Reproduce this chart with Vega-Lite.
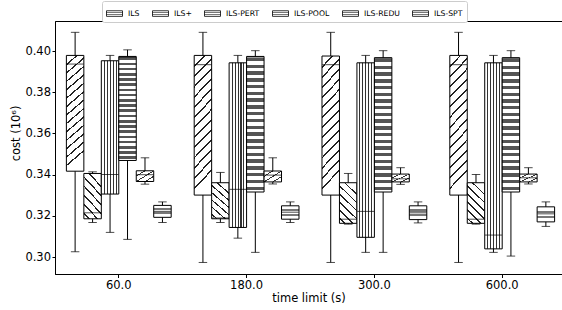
{
  "$schema": "https://vega.github.io/schema/vega-lite/v6.json",
  "width": 507,
  "height": 253,
  "autosize": {"type": "none"},
  "padding": {"left": 55, "top": 21, "right": 0, "bottom": 36},
  "background": "white",
  "config": {
    "font": "DejaVu Sans",
    "view": {"stroke": "black", "strokeWidth": 1},
    "axis": {"grid": false, "domainColor": "black", "tickColor": "black", "labelColor": "black", "titleColor": "black", "titleFontWeight": "normal", "labelFontSize": 11.5, "titleFontSize": 11.5, "labelFont": "DejaVu Sans", "titleFont": "DejaVu Sans"}
  },
  "params": [
    {"name": "gILS", "value": {"gradient": "linear", "x1": 0, "y1": 0, "x2": 0.13, "y2": 1, "stops": [
      {"offset": 0, "color": "#ffffff"},
      {"offset": 0.0714, "color": "#ffffff"}, {"offset": 0.0714, "color": "#222222"}, {"offset": 0.0854, "color": "#222222"}, {"offset": 0.0854, "color": "#ffffff"},
      {"offset": 0.1429, "color": "#ffffff"}, {"offset": 0.1429, "color": "#222222"}, {"offset": 0.1569, "color": "#222222"}, {"offset": 0.1569, "color": "#ffffff"},
      {"offset": 0.2143, "color": "#ffffff"}, {"offset": 0.2143, "color": "#222222"}, {"offset": 0.2283, "color": "#222222"}, {"offset": 0.2283, "color": "#ffffff"},
      {"offset": 0.2857, "color": "#ffffff"}, {"offset": 0.2857, "color": "#222222"}, {"offset": 0.2997, "color": "#222222"}, {"offset": 0.2997, "color": "#ffffff"},
      {"offset": 0.3571, "color": "#ffffff"}, {"offset": 0.3571, "color": "#222222"}, {"offset": 0.3711, "color": "#222222"}, {"offset": 0.3711, "color": "#ffffff"},
      {"offset": 0.4286, "color": "#ffffff"}, {"offset": 0.4286, "color": "#222222"}, {"offset": 0.4426, "color": "#222222"}, {"offset": 0.4426, "color": "#ffffff"},
      {"offset": 0.5, "color": "#ffffff"}, {"offset": 0.5, "color": "#222222"}, {"offset": 0.514, "color": "#222222"}, {"offset": 0.514, "color": "#ffffff"},
      {"offset": 0.5714, "color": "#ffffff"}, {"offset": 0.5714, "color": "#222222"}, {"offset": 0.5854, "color": "#222222"}, {"offset": 0.5854, "color": "#ffffff"},
      {"offset": 0.6429, "color": "#ffffff"}, {"offset": 0.6429, "color": "#222222"}, {"offset": 0.6569, "color": "#222222"}, {"offset": 0.6569, "color": "#ffffff"},
      {"offset": 0.7143, "color": "#ffffff"}, {"offset": 0.7143, "color": "#222222"}, {"offset": 0.7283, "color": "#222222"}, {"offset": 0.7283, "color": "#ffffff"},
      {"offset": 0.7857, "color": "#ffffff"}, {"offset": 0.7857, "color": "#222222"}, {"offset": 0.7997, "color": "#222222"}, {"offset": 0.7997, "color": "#ffffff"},
      {"offset": 0.8571, "color": "#ffffff"}, {"offset": 0.8571, "color": "#222222"}, {"offset": 0.8711, "color": "#222222"}, {"offset": 0.8711, "color": "#ffffff"},
      {"offset": 0.9286, "color": "#ffffff"}, {"offset": 0.9286, "color": "#222222"}, {"offset": 0.9426, "color": "#222222"}, {"offset": 0.9426, "color": "#ffffff"},
      {"offset": 1, "color": "#ffffff"}
    ]}},
    {"name": "gPLUS", "value": {"gradient": "linear", "x1": 0, "y1": 1, "x2": 0.42, "y2": 0, "stops": [
      {"offset": 0, "color": "#ffffff"},
      {"offset": 0.09, "color": "#ffffff"}, {"offset": 0.09, "color": "#222222"}, {"offset": 0.125, "color": "#222222"}, {"offset": 0.125, "color": "#ffffff"},
      {"offset": 0.26, "color": "#ffffff"}, {"offset": 0.26, "color": "#222222"}, {"offset": 0.295, "color": "#222222"}, {"offset": 0.295, "color": "#ffffff"},
      {"offset": 0.43, "color": "#ffffff"}, {"offset": 0.43, "color": "#222222"}, {"offset": 0.465, "color": "#222222"}, {"offset": 0.465, "color": "#ffffff"},
      {"offset": 0.60, "color": "#ffffff"}, {"offset": 0.60, "color": "#222222"}, {"offset": 0.635, "color": "#222222"}, {"offset": 0.635, "color": "#ffffff"},
      {"offset": 0.77, "color": "#ffffff"}, {"offset": 0.77, "color": "#222222"}, {"offset": 0.805, "color": "#222222"}, {"offset": 0.805, "color": "#ffffff"},
      {"offset": 0.94, "color": "#ffffff"}, {"offset": 0.94, "color": "#222222"}, {"offset": 0.975, "color": "#222222"}, {"offset": 0.975, "color": "#ffffff"},
      {"offset": 1, "color": "#ffffff"}
    ]}},
    {"name": "gPERT", "value": {"gradient": "linear", "x1": 0, "y1": 0, "x2": 1, "y2": 0, "stops": [
      {"offset": 0, "color": "#ffffff"},
      {"offset": 0.14, "color": "#ffffff"}, {"offset": 0.14, "color": "#333333"}, {"offset": 0.2, "color": "#333333"}, {"offset": 0.2, "color": "#ffffff"},
      {"offset": 0.31, "color": "#ffffff"}, {"offset": 0.31, "color": "#333333"}, {"offset": 0.37, "color": "#333333"}, {"offset": 0.37, "color": "#ffffff"},
      {"offset": 0.48, "color": "#ffffff"}, {"offset": 0.48, "color": "#333333"}, {"offset": 0.54, "color": "#333333"}, {"offset": 0.54, "color": "#ffffff"},
      {"offset": 0.65, "color": "#ffffff"}, {"offset": 0.65, "color": "#333333"}, {"offset": 0.71, "color": "#333333"}, {"offset": 0.71, "color": "#ffffff"},
      {"offset": 0.82, "color": "#ffffff"}, {"offset": 0.82, "color": "#333333"}, {"offset": 0.88, "color": "#333333"}, {"offset": 0.88, "color": "#ffffff"},
      {"offset": 1, "color": "#ffffff"}
    ]}},
    {"name": "gPOOL", "value": {"gradient": "linear", "x1": 0, "y1": 0, "x2": 0, "y2": 1, "stops": [
      {"offset": 0, "color": "#ffffff"},
      {"offset": 0.01, "color": "#ffffff"}, {"offset": 0.01, "color": "#555555"}, {"offset": 0.035, "color": "#555555"}, {"offset": 0.035, "color": "#ffffff"},
      {"offset": 0.06, "color": "#ffffff"}, {"offset": 0.06, "color": "#555555"}, {"offset": 0.085, "color": "#555555"}, {"offset": 0.085, "color": "#ffffff"},
      {"offset": 0.11, "color": "#ffffff"}, {"offset": 0.11, "color": "#555555"}, {"offset": 0.135, "color": "#555555"}, {"offset": 0.135, "color": "#ffffff"},
      {"offset": 0.16, "color": "#ffffff"}, {"offset": 0.16, "color": "#555555"}, {"offset": 0.185, "color": "#555555"}, {"offset": 0.185, "color": "#ffffff"},
      {"offset": 0.21, "color": "#ffffff"}, {"offset": 0.21, "color": "#555555"}, {"offset": 0.235, "color": "#555555"}, {"offset": 0.235, "color": "#ffffff"},
      {"offset": 0.26, "color": "#ffffff"}, {"offset": 0.26, "color": "#555555"}, {"offset": 0.285, "color": "#555555"}, {"offset": 0.285, "color": "#ffffff"},
      {"offset": 0.31, "color": "#ffffff"}, {"offset": 0.31, "color": "#555555"}, {"offset": 0.335, "color": "#555555"}, {"offset": 0.335, "color": "#ffffff"},
      {"offset": 0.36, "color": "#ffffff"}, {"offset": 0.36, "color": "#555555"}, {"offset": 0.385, "color": "#555555"}, {"offset": 0.385, "color": "#ffffff"},
      {"offset": 0.41, "color": "#ffffff"}, {"offset": 0.41, "color": "#555555"}, {"offset": 0.435, "color": "#555555"}, {"offset": 0.435, "color": "#ffffff"},
      {"offset": 0.46, "color": "#ffffff"}, {"offset": 0.46, "color": "#555555"}, {"offset": 0.485, "color": "#555555"}, {"offset": 0.485, "color": "#ffffff"},
      {"offset": 0.51, "color": "#ffffff"}, {"offset": 0.51, "color": "#555555"}, {"offset": 0.535, "color": "#555555"}, {"offset": 0.535, "color": "#ffffff"},
      {"offset": 0.56, "color": "#ffffff"}, {"offset": 0.56, "color": "#555555"}, {"offset": 0.585, "color": "#555555"}, {"offset": 0.585, "color": "#ffffff"},
      {"offset": 0.61, "color": "#ffffff"}, {"offset": 0.61, "color": "#555555"}, {"offset": 0.635, "color": "#555555"}, {"offset": 0.635, "color": "#ffffff"},
      {"offset": 0.66, "color": "#ffffff"}, {"offset": 0.66, "color": "#555555"}, {"offset": 0.685, "color": "#555555"}, {"offset": 0.685, "color": "#ffffff"},
      {"offset": 0.71, "color": "#ffffff"}, {"offset": 0.71, "color": "#555555"}, {"offset": 0.735, "color": "#555555"}, {"offset": 0.735, "color": "#ffffff"},
      {"offset": 0.76, "color": "#ffffff"}, {"offset": 0.76, "color": "#555555"}, {"offset": 0.785, "color": "#555555"}, {"offset": 0.785, "color": "#ffffff"},
      {"offset": 0.81, "color": "#ffffff"}, {"offset": 0.81, "color": "#555555"}, {"offset": 0.835, "color": "#555555"}, {"offset": 0.835, "color": "#ffffff"},
      {"offset": 0.86, "color": "#ffffff"}, {"offset": 0.86, "color": "#555555"}, {"offset": 0.885, "color": "#555555"}, {"offset": 0.885, "color": "#ffffff"},
      {"offset": 0.91, "color": "#ffffff"}, {"offset": 0.91, "color": "#555555"}, {"offset": 0.935, "color": "#555555"}, {"offset": 0.935, "color": "#ffffff"},
      {"offset": 0.96, "color": "#ffffff"}, {"offset": 0.96, "color": "#555555"}, {"offset": 0.985, "color": "#555555"}, {"offset": 0.985, "color": "#ffffff"},
      {"offset": 1, "color": "#ffffff"}
    ]}},
    {"name": "gREDU", "value": {"gradient": "linear", "x1": 0, "y1": 0, "x2": 1, "y2": 1, "stops": [
      {"offset": 0, "color": "#ffffff"},
      {"offset": 0.22, "color": "#ffffff"}, {"offset": 0.22, "color": "#333333"}, {"offset": 0.27, "color": "#333333"}, {"offset": 0.27, "color": "#ffffff"},
      {"offset": 0.475, "color": "#ffffff"}, {"offset": 0.475, "color": "#333333"}, {"offset": 0.525, "color": "#333333"}, {"offset": 0.525, "color": "#ffffff"},
      {"offset": 0.73, "color": "#ffffff"}, {"offset": 0.73, "color": "#333333"}, {"offset": 0.78, "color": "#333333"}, {"offset": 0.78, "color": "#ffffff"},
      {"offset": 1, "color": "#ffffff"}
    ]}},
    {"name": "gSPT", "value": {"gradient": "linear", "x1": 0, "y1": 0, "x2": 0, "y2": 1, "stops": [
      {"offset": 0, "color": "#ffffff"},
      {"offset": 0.25, "color": "#ffffff"}, {"offset": 0.25, "color": "#777777"}, {"offset": 0.42, "color": "#777777"}, {"offset": 0.42, "color": "#ffffff"},
      {"offset": 0.58, "color": "#ffffff"}, {"offset": 0.58, "color": "#777777"}, {"offset": 0.75, "color": "#777777"}, {"offset": 0.75, "color": "#ffffff"},
      {"offset": 1, "color": "#ffffff"}
    ]}}
  ],
  "data": {
    "values": [
      {"time": "60.0", "method": "ILS", "lower": 0.3026, "q1": 0.3417, "median": 0.3937, "q3": 0.3979, "upper": 0.4091},
      {"time": "60.0", "method": "ILS+", "lower": 0.3168, "q1": 0.3186, "median": 0.3215, "q3": 0.3406, "upper": 0.3414},
      {"time": "60.0", "method": "ILS-PERT", "lower": 0.3120, "q1": 0.3306, "median": 0.3401, "q3": 0.3953, "upper": 0.3979},
      {"time": "60.0", "method": "ILS-POOL", "lower": 0.3086, "q1": 0.3469, "median": 0.3971, "q3": 0.3974, "upper": 0.4006},
      {"time": "60.0", "method": "ILS-REDU", "lower": 0.3354, "q1": 0.3367, "median": 0.3400, "q3": 0.3419, "upper": 0.3482},
      {"time": "60.0", "method": "ILS-SPT", "lower": 0.3168, "q1": 0.3193, "median": 0.3222, "q3": 0.3251, "upper": 0.3268},
      {"time": "180.0", "method": "ILS", "lower": 0.2974, "q1": 0.3301, "median": 0.3934, "q3": 0.3979, "upper": 0.4091},
      {"time": "180.0", "method": "ILS+", "lower": 0.3168, "q1": 0.3186, "median": 0.3190, "q3": 0.3361, "upper": 0.3411},
      {"time": "180.0", "method": "ILS-PERT", "lower": 0.3092, "q1": 0.3144, "median": 0.3329, "q3": 0.3943, "upper": 0.3979},
      {"time": "180.0", "method": "ILS-POOL", "lower": 0.3023, "q1": 0.3316, "median": 0.3971, "q3": 0.3974, "upper": 0.4002},
      {"time": "180.0", "method": "ILS-REDU", "lower": 0.3355, "q1": 0.3365, "median": 0.3398, "q3": 0.3418, "upper": 0.3482},
      {"time": "180.0", "method": "ILS-SPT", "lower": 0.3168, "q1": 0.3184, "median": 0.3218, "q3": 0.3249, "upper": 0.3268},
      {"time": "300.0", "method": "ILS", "lower": 0.2974, "q1": 0.3301, "median": 0.3934, "q3": 0.3976, "upper": 0.4091},
      {"time": "300.0", "method": "ILS+", "lower": 0.3160, "q1": 0.3164, "median": 0.3184, "q3": 0.3361, "upper": 0.3406},
      {"time": "300.0", "method": "ILS-PERT", "lower": 0.3023, "q1": 0.3096, "median": 0.3222, "q3": 0.3943, "upper": 0.3979},
      {"time": "300.0", "method": "ILS-POOL", "lower": 0.3023, "q1": 0.3316, "median": 0.3965, "q3": 0.3968, "upper": 0.4002},
      {"time": "300.0", "method": "ILS-REDU", "lower": 0.3353, "q1": 0.3365, "median": 0.3380, "q3": 0.3403, "upper": 0.3434},
      {"time": "300.0", "method": "ILS-SPT", "lower": 0.3166, "q1": 0.3182, "median": 0.3215, "q3": 0.3249, "upper": 0.3268},
      {"time": "600.0", "method": "ILS", "lower": 0.2974, "q1": 0.3301, "median": 0.3934, "q3": 0.3979, "upper": 0.4091},
      {"time": "600.0", "method": "ILS+", "lower": 0.3160, "q1": 0.3164, "median": 0.3184, "q3": 0.3361, "upper": 0.3401},
      {"time": "600.0", "method": "ILS-PERT", "lower": 0.3023, "q1": 0.3040, "median": 0.3107, "q3": 0.3943, "upper": 0.3979},
      {"time": "600.0", "method": "ILS-POOL", "lower": 0.3005, "q1": 0.3316, "median": 0.3965, "q3": 0.3968, "upper": 0.4002},
      {"time": "600.0", "method": "ILS-REDU", "lower": 0.3355, "q1": 0.3365, "median": 0.3385, "q3": 0.3403, "upper": 0.3434},
      {"time": "600.0", "method": "ILS-SPT", "lower": 0.3149, "q1": 0.3171, "median": 0.3210, "q3": 0.3244, "upper": 0.3268}
    ]
  },
  "encoding": {
    "x": {
      "field": "time", "type": "nominal", "sort": ["60.0", "180.0", "300.0", "600.0"],
      "scale": {"paddingInner": 0.18, "paddingOuter": 0.0735, "align": 0.606, "round": false},
      "axis": {"title": "time limit (s)", "labelAngle": 0, "tickSize": 3.5, "labelPadding": 1.5, "titlePadding": 2}
    },
    "xOffset": {
      "field": "method", "type": "nominal",
      "sort": ["ILS", "ILS+", "ILS-PERT", "ILS-POOL", "ILS-REDU", "ILS-SPT"],
      "scale": {"paddingInner": 0, "paddingOuter": 0}
    }
  },
  "layer": [
    {
      "mark": {"type": "rule", "color": "black", "strokeWidth": 1},
      "encoding": {
        "y": {"field": "lower", "type": "quantitative", "title": "cost (10⁶)",
          "scale": {"domain": [0.2918, 0.4146], "nice": false, "zero": false},
          "axis": {"values": [0.30, 0.32, 0.34, 0.36, 0.38, 0.40], "format": ".2f", "tickSize": 3, "labelPadding": 1.5, "titlePadding": 3, "titleY": 112}},
        "y2": {"field": "upper"}
      }
    },
    {
      "mark": {"type": "bar", "strokeWidth": 1},
      "encoding": {
        "y": {"field": "q1", "type": "quantitative", "title": "cost (10⁶)"},
        "y2": {"field": "q3"},
        "fill": {"value": {"expr": "datum.method==='ILS'?gILS:datum.method==='ILS+'?gPLUS:datum.method==='ILS-PERT'?gPERT:datum.method==='ILS-POOL'?gPOOL:datum.method==='ILS-REDU'?gREDU:gSPT"}},
        "stroke": {
          "field": "method", "type": "nominal",
          "scale": {
            "domain": ["ILS", "ILS+", "ILS-PERT", "ILS-POOL", "ILS-REDU", "ILS-SPT"],
            "range": ["black", "black", "black", "black", "black", "black"]
          },
          "legend": {
            "title": null, "orient": "none", "legendX": 47, "legendY": -20,
            "direction": "horizontal", "columns": 6,
            "symbolType": "M-1,-0.35H1V0.35H-1Z", "symbolSize": 256,
            "symbolStrokeWidth": 0.8,
            "labelFontSize": 7.7, "labelFontWeight": "normal", "labelOffset": 5, "labelColor": "black", "labelFont": "DejaVu Sans",
            "columnPadding": 10, "padding": 4,
            "strokeColor": "#cccccc", "fillColor": "white", "cornerRadius": 2,
            "encode": {
              "symbols": {
                "update": {
                  "fill": {"signal": "datum.value==='ILS'?gILS:datum.value==='ILS+'?gPLUS:datum.value==='ILS-PERT'?gPERT:datum.value==='ILS-POOL'?gPOOL:datum.value==='ILS-REDU'?gREDU:gSPT"},
                  "stroke": {"value": "black"},
                  "opacity": {"value": 1},
                  "fillOpacity": {"value": 1}
                }
              }
            }
          }
        }
      }
    },
    {
      "mark": {"type": "tick", "color": "black", "size": 17, "thickness": 1},
      "encoding": {"y": {"field": "median", "type": "quantitative", "title": "cost (10⁶)"}}
    },
    {
      "mark": {"type": "tick", "color": "black", "size": 8.5, "thickness": 1},
      "encoding": {"y": {"field": "lower", "type": "quantitative", "title": "cost (10⁶)"}}
    },
    {
      "mark": {"type": "tick", "color": "black", "size": 8.5, "thickness": 1},
      "encoding": {"y": {"field": "upper", "type": "quantitative", "title": "cost (10⁶)"}}
    }
  ]
}
